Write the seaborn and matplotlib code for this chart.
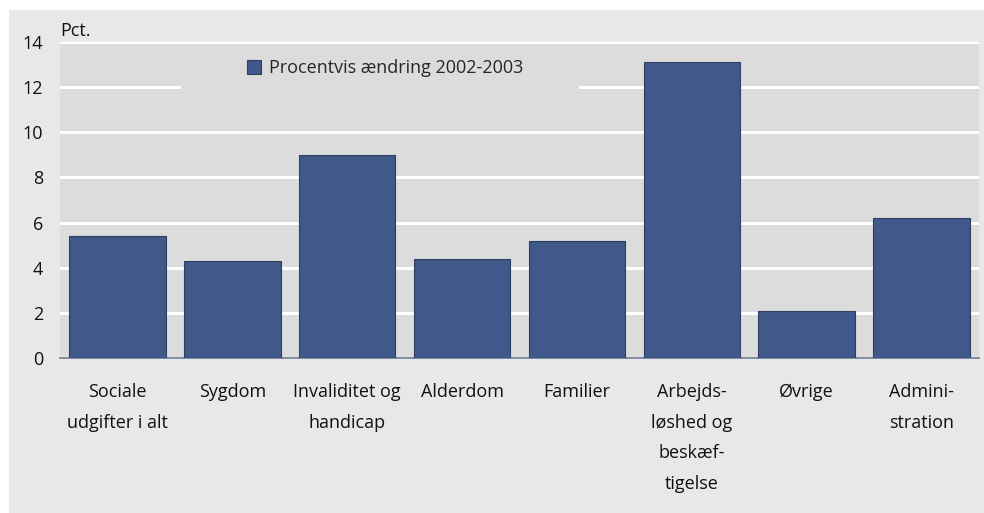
import matplotlib
matplotlib.use("Agg")
import matplotlib.pyplot as plt
import seaborn as sns
import pandas as pd
from matplotlib.patches import Rectangle

categories = ["Sociale\nudgifter i alt", "Sygdom", "Invaliditet og\nhandicap", "Alderdom",
              "Familier", "Arbejds-\nløshed og\nbeskæf-\ntigelse", "Øvrige", "Admini-\nstration"]
values = [5.4, 4.3, 9.0, 4.4, 5.2, 13.1, 2.1, 6.2]
series_name = "Procentvis ændring 2002-2003"
yticks = [0, 2, 4, 6, 8, 10, 12, 14]

sns.set_theme(style="white")
plt.rcParams['font.family'] = ['Open Sans', 'DejaVu Sans']

df = pd.DataFrame({"cat": categories, "val": values, "serie": series_name})

fig = plt.figure(figsize=(9.84, 5.13), dpi=100)
fig.patch.set_facecolor("white")
fig.patches.append(Rectangle((9/984, 0), 975/984, 503/513, transform=fig.transFigure,
                             facecolor="#e8e8e8", edgecolor="none", zorder=-10))
ax = fig.add_axes([60/984, 1 - 358/513, 919/984, 316/513])
ax.set_facecolor("#dcdcdc")

sns.barplot(data=df, x="cat", y="val", hue="serie", palette=["#41598a"], width=0.84,
            saturation=1, edgecolor="#2e3f60", linewidth=0.8, ax=ax, zorder=3)

ax.set_ylim(0, 14)
ax.set_xlim(-0.5, len(categories) - 0.5)
ax.set_yticks(yticks)
ax.set_yticklabels([str(t) for t in yticks], fontsize=13, color="#111111")
ax.tick_params(axis="y", length=0, pad=12)
ax.tick_params(axis="x", length=0, pad=18)
ax.set_xticks(range(len(categories)))
ax.set_xticklabels(categories, fontsize=13, color="#111111", linespacing=1.9, va="top")
ax.yaxis.grid(True, color="white", linewidth=2.2, zorder=1)
ax.set_axisbelow(True)
for s in ["top", "right", "left"]:
    ax.spines[s].set_visible(False)
ax.spines["bottom"].set_color("#6a7a99")
ax.spines["bottom"].set_linewidth(1.2)
ax.set_xlabel("")
ax.set_ylabel("")
ax.text(0, 1.005, "Pct.", transform=ax.transAxes, fontsize=13, ha="left", va="bottom", color="#111111")

# legend background box hiding the gridline behind it
ax.add_patch(Rectangle(((181 - 60) / 919, 1 - 58 / 316), 398 / 919, 52 / 316,
                       transform=ax.transAxes, facecolor="#dcdcdc", edgecolor="none", zorder=1.5))

leg = ax.legend(loc="center left", bbox_to_anchor=((247 - 60) / 919, (358 - 68) / 316),
                frameon=False, fontsize=13, handlelength=0.8, handleheight=0.8,
                handletextpad=0.4, borderaxespad=0, borderpad=0)
for h in leg.legend_handles:
    h.set_edgecolor("#2e3f60")

fig.savefig("out.png", dpi=100, facecolor="white")
